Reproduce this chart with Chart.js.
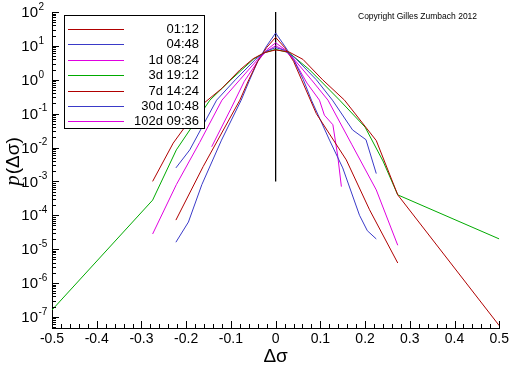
<!DOCTYPE html>
<html>
<head>
<meta charset="utf-8">
<script src="https://cdn.jsdelivr.net/npm/chart.js@4.4.1/dist/chart.umd.min.js"></script>
<style>
  body{margin:0;background:#fff;}
  canvas{display:block;}
</style>
</head>
<body>
<canvas id="dist" width="512" height="366"></canvas>
<script>
// legend labels, in legend order
var labels = ['01:12','04:48','1d 08:24','3d 19:12','7d 14:24','30d 10:48','102d 09:36'];
var colors = ['#b00000','#3a3ac8','#e000e0','#00aa00','#b00000','#3a3ac8','#e000e0'];

// delta sigma values and densities
var dx_0112 = [-0.275,-0.229,-0.17,-0.12,-0.08,-0.05,-0.025,0,0.03,0.061,0.105,0.154,0.225,0.273,0.5];
var p_0112  = [1e-3,1.35e-2,1.6e-1,5.6e-1,1.95,4.2,6.3,7.6,6.6,4,1,2.5e-1,1.6e-2,4e-4,5.5e-8];

var dx_0448 = [-0.223,-0.192,-0.132,-0.09,-0.045,-0.02,0,0.02,0.045,0.091,0.127,0.172,0.202,0.225];
var p_0448  = [2.5e-3,8.5e-3,2.5e-1,1,4,7,8.9,7.4,4.2,1,2.5e-1,3.3e-2,1.7e-2,1.7e-3];

var dx_1d = [-0.275,-0.222,-0.17,-0.12,-0.08,-0.04,-0.02,0,0.02,0.04,0.08,0.117,0.17,0.225,0.273];
var p_1d  = [2.8e-5,8e-4,1.4e-2,2.5e-1,1,4,7,10,7.4,4.2,1,2.5e-1,1.25e-2,5.6e-4,1.3e-5];

var dx_3d = [-0.5,-0.275,-0.222,-0.147,-0.1,-0.05,-0.025,0,0.03,0.076,0.098,0.143,0.2,0.24,0.273,0.5];
var p_3d  = [1.6e-7,2.8e-4,8.5e-3,2.5e-1,1,4,6.3,7.9,6.3,1.95,1,2.5e-1,4e-2,4e-3,4e-4,2e-5];

var dx_7d = [-0.223,-0.162,-0.08,-0.06,-0.04,-0.02,0,0.02,0.04,0.058,0.091,0.158,0.21,0.273];
var p_7d  = [7.2e-5,2.75e-3,2.5e-1,1,3.5,9,17.8,9,3.5,1,1e-1,4.3e-3,1.45e-4,3.9e-6];

var dx_30d = [-0.223,-0.195,-0.165,-0.121,-0.077,-0.058,-0.04,-0.02,0,0.02,0.04,0.062,0.08,0.1205,0.15,0.1875,0.205,0.225];
var p_30d  = [1.6e-5,6.3e-5,8e-4,1.65e-2,2.5e-1,1,3.5,10,24,10,4,1,2.5e-1,1.65e-2,2.5e-3,1e-4,3.5e-5,2e-5];

var dx_102d = [-0.143,-0.1,-0.07,-0.04,-0.02,0,0.02,0.04,0.07,0.098,0.109,0.128,0.139,0.147];
var p_102d  = [1.05e-2,1.4e-1,9e-1,3.5,7.6,12.3,8,4,8e-1,2.5e-1,9e-2,4.7e-2,5.4e-3,7e-4];

// vertical marker at zero
var zeroX = [0,0];
var zeroY = [100,1e-3];

var xTicks = [-0.5,-0.4,-0.3,-0.2,-0.1,0,0.1,0.2,0.3,0.4,0.5];
var yDecades = [2,1,0,-1,-2,-3,-4,-5,-6,-7];

var allX = [dx_0112,dx_0448,dx_1d,dx_3d,dx_7d,dx_30d,dx_102d];
var allY = [p_0112,p_0448,p_1d,p_3d,p_7d,p_30d,p_102d];

function pts(xs, ys){
  var out = [];
  for (var i = 0; i < xs.length; i++) out.push({x:xs[i], y:ys[i]});
  return out;
}

var sets = [];
for (var i = 0; i < labels.length; i++) {
  sets.push({label:labels[i], data:pts(allX[i],allY[i]), borderColor:colors[i],
    borderWidth:1, pointRadius:0, fill:false, tension:0});
}
sets.push({label:'zero', data:pts(zeroX,zeroY), borderColor:'#000', borderWidth:1.3, pointRadius:0});

var FONT = '"Liberation Sans", Arial, sans-serif';

var decor = {
  id:'decor',
  afterDraw:function(chart){
    var c = chart.ctx, xs = chart.scales.x, ys = chart.scales.y, a = chart.chartArea;
    c.save();
    c.strokeStyle = '#000'; c.lineWidth = 1;
    // x ticks, major and minor, pointing inside
    c.beginPath();
    for (var k = -25; k <= 25; k++) {
      var px = Math.round(xs.getPixelForValue(k*0.02)) + 0.5;
      var len = (k % 5 === 0) ? 7 : 4;
      c.moveTo(px, a.bottom); c.lineTo(px, a.bottom - len);
    }
    // y ticks on the log axis
    for (var d = -8; d <= 2; d++) {
      for (var m = 1; m <= 9; m++) {
        var v = m * Math.pow(10, d);
        if (v < ys.min || v > ys.max) continue;
        var py = Math.round(ys.getPixelForValue(v)) + 0.5;
        var l = m === 1 ? 7 : 4;
        c.moveTo(a.left, py); c.lineTo(a.left + l, py);
      }
    }
    c.stroke();

    // y labels 10^n
    c.fillStyle = '#000';
    c.textBaseline = 'middle';
    yDecades.forEach(function(n){
      var py = ys.getPixelForValue(Math.pow(10,n));
      c.font = '15px ' + FONT;
      c.textAlign = 'right';
      c.fillText('10', 38, py + 1);
      c.font = '10px ' + FONT;
      c.textAlign = 'left';
      c.fillText(String(n), 38.5, py - 5);
    });

    // axis titles
    c.textAlign = 'center';
    c.font = '19px ' + FONT;
    c.fillText('\u0394\u03c3', (a.left + a.right)/2, 357);
    c.save();
    c.translate(19, 162);
    c.rotate(-Math.PI/2);
    c.textBaseline = 'alphabetic';
    c.font = 'italic 21px "Liberation Serif", serif';
    var w1 = c.measureText('p').width;
    c.font = '19px ' + FONT;
    var w2 = c.measureText('(\u0394\u03c3)').width;
    var x0 = -(w1 + w2)/2;
    c.textAlign = 'left';
    c.font = 'italic 21px "Liberation Serif", serif';
    c.fillText('p', x0, 0);
    c.font = '19px ' + FONT;
    c.fillText('(\u0394\u03c3)', x0 + w1 + 1, 0);
    c.restore();

    // copyright
    c.font = '8.5px ' + FONT;
    c.textAlign = 'left';
    c.fillText('Copyright Gilles Zumbach 2012', 358, 17);

    // legend box
    c.fillStyle = '#fff';
    c.fillRect(64.5, 15.5, 140, 113);
    c.strokeStyle = '#000';
    c.strokeRect(64.5, 15.5, 140, 113);
    c.font = '13px ' + FONT;
    c.textAlign = 'right';
    for (var i = 0; i < labels.length; i++) {
      var ly = Math.round(29 + i*15.4) + 0.5;
      c.strokeStyle = colors[i];
      c.beginPath(); c.moveTo(68, ly); c.lineTo(124, ly); c.stroke();
      c.fillStyle = '#000';
      c.fillText(labels[i], 199, ly);
    }
    c.restore();
  }
};

new Chart(document.getElementById('dist'), {
  type:'line',
  data:{datasets:sets},
  options:{
    responsive:false,
    animation:false,
    devicePixelRatio:1,
    layout:{padding:{top:12, right:12, left:0, bottom:0}},
    plugins:{legend:{display:false}, tooltip:{enabled:false}},
    scales:{
      x:{
        type:'linear', min:-0.5, max:0.5,
        afterBuildTicks:function(s){ s.ticks = xTicks.map(function(v){ return {value:v}; }); },
        afterFit:function(s){ s.height = 38; },
        ticks:{color:'#000', font:{family:FONT, size:14}, padding:3, autoSkip:false, maxRotation:0,
          callback:function(v){ return String(Math.round(v*10)/10); }},
        grid:{display:false, drawTicks:false},
        border:{color:'#000', width:1}
      },
      y:{
        type:'logarithmic', min:4.7e-8, max:100,
        afterFit:function(s){ s.width = 52; },
        ticks:{display:false},
        grid:{display:false, drawTicks:false},
        border:{color:'#000', width:1}
      }
    }
  },
  plugins:[decor]
});
</script>
</body>
</html>
